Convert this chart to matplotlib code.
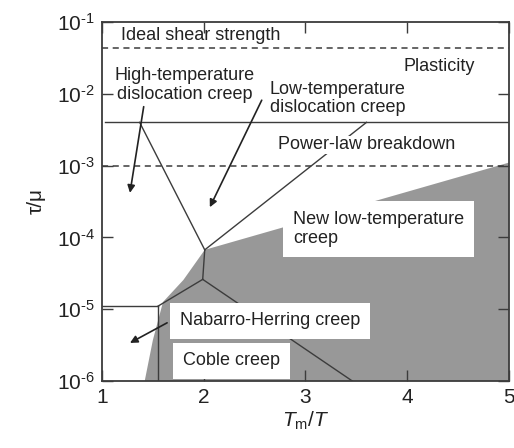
import numpy as np
import matplotlib
matplotlib.use("Agg")
import matplotlib.pyplot as plt
from matplotlib.ticker import FuncFormatter

plt.rcParams['font.family'] = ['Liberation Sans', 'DejaVu Sans']
plt.rcParams['mathtext.fontset'] = 'custom'
plt.rcParams['mathtext.rm'] = 'Liberation Sans'
plt.rcParams['mathtext.it'] = 'Liberation Sans:italic'

# deformation map data (Tm/T, tau/mu)
ideal_strength = 0.043
plbd_upper = 0.004
plbd_lower = 1e-3

# shaded "new low-temperature creep" field
field_x = [5.0, 2.01, 1.80, 1.60, 1.50, 1.42, 5.0]
field_y = [1.1e-3, 6.7e-5, 2.55e-5, 1.26e-5, 3.7e-6, 1e-6, 1e-6]

# field boundaries
boundaries = [
    ([1.37, 2.01], [0.004, 6.7e-5]),      # high-T / low-T dislocation creep
    ([2.01, 3.60], [6.7e-5, 0.004]),      # low-T dislocation / new low-T
    ([2.01, 1.99], [6.7e-5, 2.6e-5]),
    ([1.99, 1.55], [2.6e-5, 1.1e-5]),
    ([1.99, 3.46], [2.6e-5, 1e-6]),       # Nabarro-Herring / Coble
    ([1.0, 1.55], [1.1e-5, 1.1e-5]),
    ([1.55, 1.55], [1.1e-5, 1e-6]),
]

# arrows: (tail, head)
arrows = [
    ((1.41, 10**-2.18), (1.275, 10**-3.38)),
    ((2.57, 10**-2.09), (2.06, 10**-3.58)),
    ((1.64, 10**-5.19), (1.275, 10**-5.47)),
]

lc = '#3c3c3c'
fig = plt.figure(figsize=(5.14, 4.48), dpi=100)
ax = fig.add_axes([0.1984, 0.1496, 0.7918, 0.8014])
ax.set_yscale('log')
ax.set_xlim(1, 5)
ax.set_ylim(1e-6, 1e-1)

ax.fill(field_x, field_y, color='#989898', lw=0, zorder=1)

ax.axhline(ideal_strength, color=lc, lw=1.1, ls=(0, (4, 3)), zorder=2)
ax.axhline(plbd_lower, color=lc, lw=1.1, ls=(0, (4, 3)), zorder=2)
ax.plot([1.03, 5], [plbd_upper, plbd_upper], color=lc, lw=1.0, zorder=2)

for bx, by in boundaries:
    ax.plot(bx, by, color=lc, lw=1.0, zorder=2)

for tail, head in arrows:
    ax.annotate('', xy=head, xytext=tail,
                arrowprops=dict(arrowstyle='-|>', color='#222222', lw=1.2,
                                mutation_scale=11, shrinkA=0, shrinkB=0),
                zorder=3)

fs = 13
tc = '#222222'
white = dict(facecolor='white', edgecolor='none', pad=0.2)
boxed = dict(facecolor='white', edgecolor='none', boxstyle='square,pad=0.55')
ax.text(1.19, 0.064, 'Ideal shear strength', fontsize=fs, color=tc, va='center')
ax.text(1.816, 0.0133, 'High-temperature\ndislocation creep', fontsize=fs,
        color=tc, ha='center', va='center', multialignment='center',
        linespacing=1.1)
ax.text(3.96, 0.0236, 'Plasticity', fontsize=fs, color=tc, va='center')
ax.text(2.65, 0.0085, 'Low-temperature\ndislocation creep', fontsize=fs,
        color=tc, va='center', linespacing=1.1)
ax.text(2.73, 0.00194, 'Power-law breakdown', fontsize=fs, color=tc,
        va='center', bbox=white, zorder=4)
ax.text(2.877, 1.31e-4, 'New low-temperature\ncreep', fontsize=fs, color=tc,
        va='center', linespacing=1.1, zorder=4, bbox=boxed)
ax.text(1.767, 6.85e-6, 'Nabarro-Herring creep', fontsize=fs, color=tc,
        va='center', zorder=4, bbox=boxed)
ax.text(1.796, 1.9e-6, 'Coble creep', fontsize=fs, color=tc,
        va='center', zorder=4, bbox=boxed)

ax.set_xticks([1, 2, 3, 4, 5])
ax.set_yticks([1e-6, 1e-5, 1e-4, 1e-3, 1e-2, 1e-1])
ax.yaxis.set_major_formatter(FuncFormatter(
    lambda v, p: r'$\mathregular{10^{\text{-}%d}}$' % round(-np.log10(v))))
ax.minorticks_off()
ax.tick_params(direction='in', length=8, width=1.0, color=lc,
               labelsize=15, labelcolor=tc, top=True, right=True, pad=5)
for s in ax.spines.values():
    s.set_color(lc)
    s.set_linewidth(1.3)

ax.set_xlabel(r'$T_{\mathrm{m}}/T$', fontsize=15, color=tc, labelpad=2)
ax.set_ylabel('τ/μ', fontsize=15, color=tc, labelpad=8)

fig.savefig('out.png', dpi=100)
